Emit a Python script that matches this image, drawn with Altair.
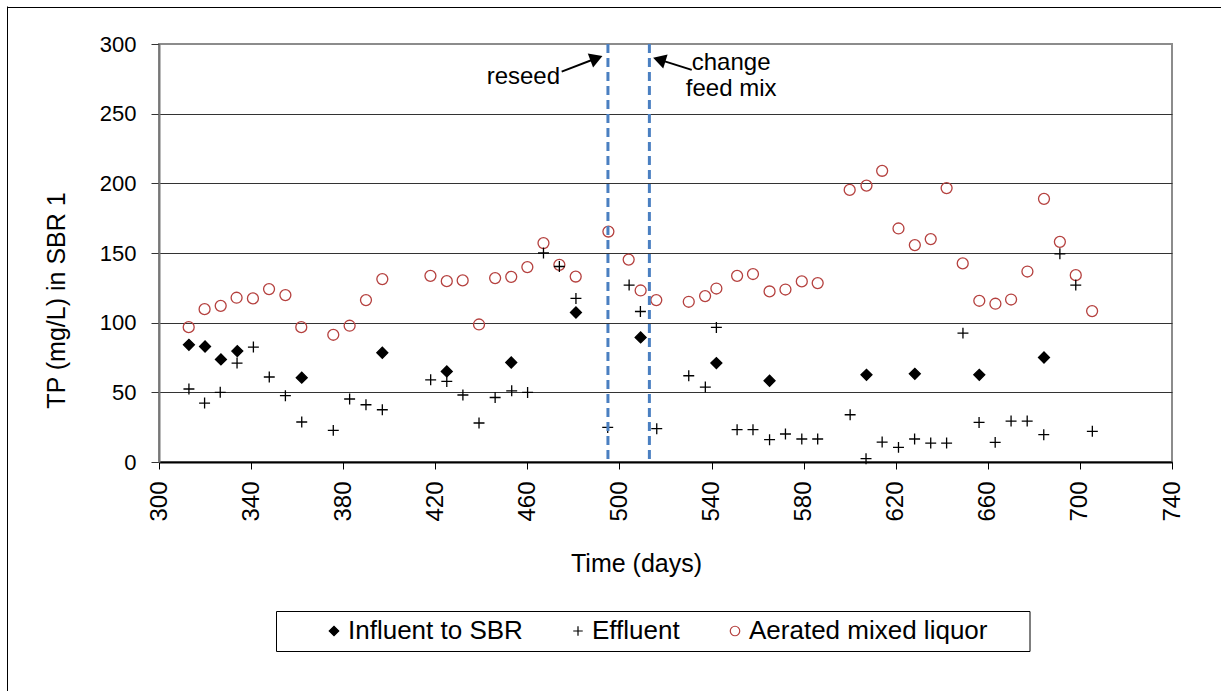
import altair as alt
import pandas as pd

FONT = "Liberation Sans"

series_names = ["Influent to SBR", "Effluent", "Aerated mixed liquor"]

aer_day = [312.9, 319.8, 326.8, 333.7, 340.8, 347.8, 354.9, 361.8, 375.7, 382.8,
           389.9, 397.0, 417.9, 425.0, 431.9, 439.0, 446.0, 453.0, 460.0, 467.0,
           473.9, 481.0, 495.2, 504.0, 509.2, 516.0, 530.1, 537.2, 542.1, 551.1,
           558.0, 565.2, 572.1, 579.2, 586.1, 600.0, 607.3, 614.1, 621.2, 628.3,
           635.2, 642.1, 649.1, 656.3, 663.3, 670.1, 677.2, 684.4, 691.3, 698.2, 705.3]
aer_tp = [96.8, 109.7, 112.1, 117.9, 117.4, 124.1, 119.8, 96.8, 91.3, 97.8,
          116.2, 131.3, 133.6, 129.8, 130.3, 98.7, 132.0, 132.9, 139.9, 157.1,
          141.5, 133.1, 165.4, 145.3, 123.1, 116.2, 115.0, 119.1, 124.5, 133.6,
          134.9, 122.4, 123.8, 129.6, 128.4, 195.3, 198.4, 209.0, 167.6, 155.7,
          160.0, 196.6, 142.5, 115.7, 113.6, 116.6, 136.7, 188.9, 158.0, 134.1, 108.3]

inf_day = [313.0, 320.0, 326.9, 334.0, 362.0, 397.0, 425.0, 453.0, 481.1, 509.2,
           542.1, 565.2, 607.3, 628.3, 656.3, 684.4]
inf_tp = [84.1, 82.9, 73.6, 79.6, 60.5, 78.4, 65.0, 71.4, 107.3, 89.4,
          71.0, 58.3, 62.6, 63.3, 62.6, 75.0]

eff_day = [313.0, 319.8, 326.6, 333.9, 341.0, 347.9, 354.9, 362.0, 375.7, 382.8,
           389.9, 397.0, 418.0, 425.0, 432.0, 439.0, 446.0, 453.2, 460.1, 467.0,
           473.9, 481.1, 494.9, 504.2, 509.1, 516.2, 530.1, 537.3, 542.1, 551.1,
           558.0, 565.2, 572.1, 579.2, 586.1, 600.2, 607.1, 614.1, 621.2, 628.2,
           635.2, 642.1, 649.2, 656.2, 663.2, 670.1, 677.1, 684.3, 691.3, 698.2, 705.4]
eff_tp = [52.4, 42.3, 50.0, 71.0, 82.5, 61.0, 47.6, 28.7, 22.7, 45.2,
          41.1, 37.5, 59.0, 57.8, 48.1, 28.0, 46.3, 51.1, 49.9, 150.0,
          140.3, 117.4, 24.8, 127.0, 108.0, 23.9, 61.9, 53.8, 96.6, 23.2,
          23.2, 16.0, 20.1, 16.5, 16.5, 33.9, 2.4, 14.3, 10.5, 16.5,
          13.6, 13.6, 92.5, 28.4, 14.1, 29.4, 29.4, 19.6, 149.4, 127.0, 22.0]

event_day = [495, 513]

note_text = ["reseed", "change", "feed mix"]
note_day = [474.2, 548.5, 548.5]
note_tp = [271.2, 281.4, 262.6]
note_align = ["right", "center", "center"]

arrow_day = [474.9, 531.4]
arrow_tp = [280.2, 281.4]
arrow_day2 = [490.0, 517.3]
arrow_tp2 = [289.8, 288.8]
arrow_angle = [69, 287]

x_ticks = list(range(300, 741, 40))
y_ticks = list(range(0, 301, 50))

rows = []
for d, v in zip(aer_day, aer_tp):
    rows.append({"day": d, "tp": v, "series": "Aerated mixed liquor"})
for d, v in zip(inf_day, inf_tp):
    rows.append({"day": d, "tp": v, "series": "Influent to SBR"})
for d, v in zip(eff_day, eff_tp):
    rows.append({"day": d, "tp": v, "series": "Effluent"})
df = pd.DataFrame(rows)

xs = alt.Scale(domain=[300, 740], nice=False, zero=False)
ys = alt.Scale(domain=[0, 300], nice=False, zero=True)

plus_path = "M-1,0L1,0M0,-1L0,1"

legend = alt.Legend(
    orient="none", legendX=155, legendY=567, direction="horizontal",
    title=None, padding=7, symbolSize=90, symbolStrokeWidth=1.2,
    labelFontSize=26, labelFont=FONT, labelColor="black", labelOffset=1, labelLimit=500,
    columnPadding=42,
)

x_axis = alt.Axis(
    values=x_ticks, labelAngle=270, labelFontSize=24, labelFont=FONT, labelColor="black",
    labelPadding=12, tickSize=7, tickColor="black", domainColor="black", domainWidth=2,
    grid=False, titleFontSize=25, titleFont=FONT, titleFontWeight="normal", titleColor="black",
    titleX=477, titleY=109, titleBaseline="alphabetic", titleAlign="center",
)
y_axis = alt.Axis(
    values=y_ticks, labelFontSize=22, labelFont=FONT, labelColor="black", labelPadding=15,
    tickSize=8, tickColor="#333333", domainColor="#777777", domainWidth=2,
    grid=True, gridColor=alt.condition("datum.value === 300", alt.value("#8c8c8c"), alt.value("#333333")),
    gridWidth=1.2,
    titleFontSize=25, titleFont=FONT, titleFontWeight="normal", titleColor="black",
    titleAngle=270, titleX=-103, titleY=256, titleBaseline="middle", titleAlign="center",
)

XT = "Time (days)"
YT = "TP (mg/L) in SBR 1"


def X(field):
    return alt.X(field, scale=xs, axis=x_axis, title=XT)


def Y(field):
    return alt.Y(field, scale=ys, axis=y_axis, title=YT)


deco = alt.Chart(alt.Data(values=[{"a": 1}]))
frame_left = deco.mark_rule(color="black", strokeWidth=1).encode(
    x=alt.value(-151.5), y=alt.value(-37.5), y2=alt.value(660))
frame_top = deco.mark_rule(color="black", strokeWidth=1).encode(
    x=alt.value(-151.5), x2=alt.value(1070), y=alt.value(-36.5))
legend_box = deco.mark_rect(fillOpacity=0, stroke="black", strokeWidth=1).encode(
    x=alt.value(117.5), x2=alt.value(871), y=alt.value(567.5), y2=alt.value(607.5))

points = alt.Chart(df).mark_point(size=120, opacity=1, strokeWidth=1.3).encode(
    x=X("day:Q"),
    y=Y("tp:Q"),
    shape=alt.Shape("series:N", scale=alt.Scale(domain=series_names, range=["diamond", plus_path, "circle"]), legend=legend),
    fill=alt.Fill("series:N", scale=alt.Scale(domain=series_names, range=["#000000", "transparent", "transparent"]), legend=legend),
    stroke=alt.Stroke("series:N", scale=alt.Scale(domain=series_names, range=["#000000", "#000000", "#b5413f"]), legend=legend),
)

events = alt.Chart(pd.DataFrame({"day": event_day})).mark_rule(
    color="#4a7fc1", strokeWidth=3, strokeDash=[9, 5]
).encode(x=X("day:Q"))

notes_df = pd.DataFrame({"day": note_day, "tp": note_tp, "label": note_text, "align": note_align})
notes_r = alt.Chart(notes_df[notes_df["align"] == "right"]).mark_text(
    align="right", baseline="alphabetic", fontSize=24, font=FONT, color="black"
).encode(x=X("day:Q"), y=Y("tp:Q"), text="label:N")
notes_c = alt.Chart(notes_df[notes_df["align"] == "center"]).mark_text(
    align="center", baseline="alphabetic", fontSize=24, font=FONT, color="black"
).encode(x=X("day:Q"), y=Y("tp:Q"), text="label:N")

arrows_df = pd.DataFrame({"day": arrow_day, "tp": arrow_tp, "day2": arrow_day2, "tp2": arrow_tp2, "ang": arrow_angle})
arrow_lines = alt.Chart(arrows_df).mark_rule(color="black", strokeWidth=2).encode(
    x=X("day:Q"), y=Y("tp:Q"), x2="day2:Q", y2="tp2:Q",
)
arrow_heads = alt.Chart(arrows_df).transform_calculate(
    day="datum.day2", tp="datum.tp2"
).mark_point(
    shape="triangle-up", filled=True, size=220, color="black", opacity=1
).encode(
    x=X("day:Q"), y=Y("tp:Q"),
    angle=alt.Angle("ang:Q", scale=None),
)

chart = alt.layer(
    frame_left, frame_top, legend_box, points, events, notes_r, notes_c, arrow_lines, arrow_heads
).properties(
    width=1013, height=418,
    padding={"left": 159, "top": 44, "right": 49, "bottom": 229},
    autosize=alt.AutoSizeParams(type="none"),
    background="white",
).configure_view(
    stroke="#8c8c8c", strokeWidth=2
)

chart.save("out.html", embed_options={"renderer": "svg", "actions": False})
